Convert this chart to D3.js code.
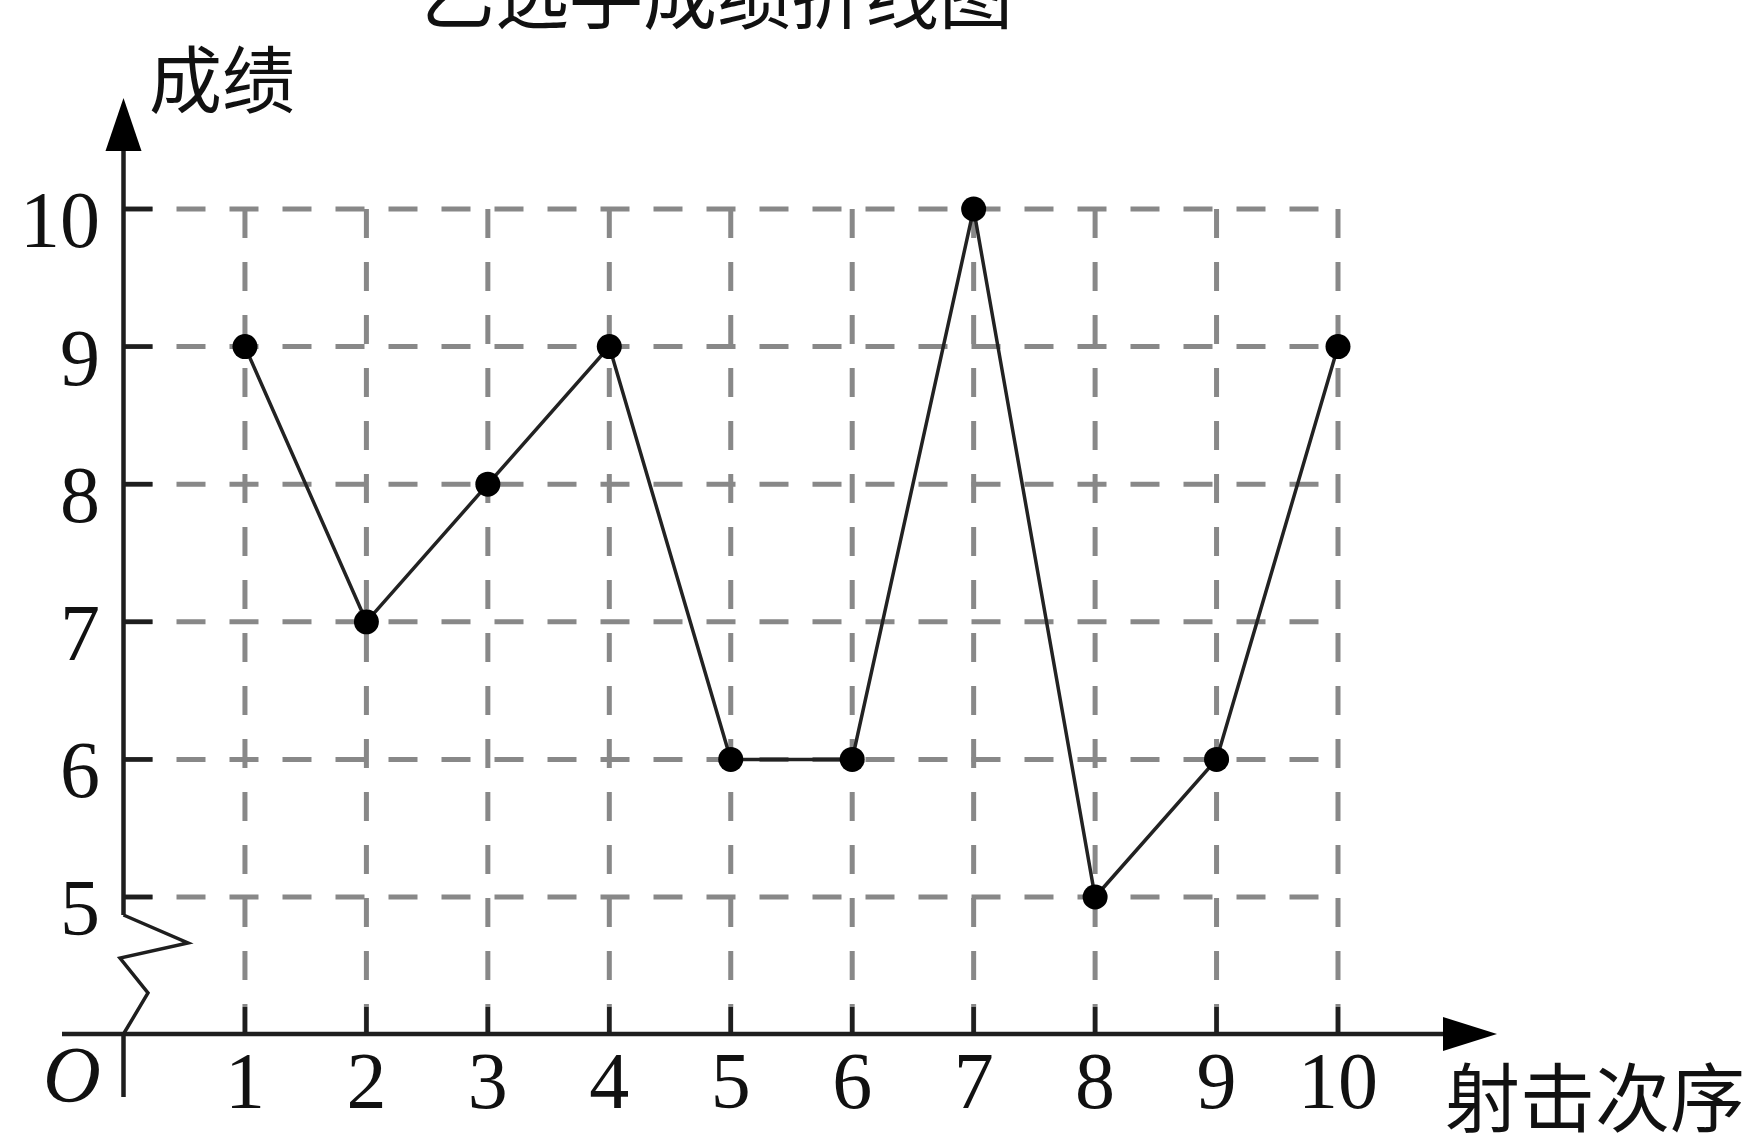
<!DOCTYPE html>
<html>
<head>
<meta charset="utf-8">
<script src="https://cdn.jsdelivr.net/npm/d3@7"></script>
<style>
  html, body { margin: 0; padding: 0; background: #fff; overflow: hidden; }
  svg { display: block; }
</style>
</head>
<body>
<svg id="chart" width="1749" height="1133"></svg>
<script>
// ---- data ----
const shots = [1, 2, 3, 4, 5, 6, 7, 8, 9, 10];
const scores = [9, 7, 8, 9, 6, 6, 10, 5, 6, 9];
const yTicks = [5, 6, 7, 8, 9, 10];
const xTickLabels = ["1", "2", "3", "4", "5", "6", "7", "8", "9", "10"];
const titleText = "乙选手成绩折线图";
const yAxisTitle = "成绩";
const xAxisTitle = "射击次序";
const originLabel = "O";

// ---- layout ----
const svg = d3.select("#chart");
const x = d3.scaleLinear().domain([0, 10]).range([123.5, 1338]);
const y = d3.scaleLinear().domain([5, 10]).range([897, 209]);
const axisY = 1034;          // pixel row of the horizontal axis (broken scale)
const axisX = x(0);
const gridColor = "#888888";
const inkColor = "#1e1e1e";
const serif = "'Liberation Serif', 'Times New Roman', serif";
const cjk = "'Noto Sans CJK SC', sans-serif";

// horizontal dashed grid lines
svg.append("g").selectAll("line").data(yTicks).join("line")
  .attr("x1", axisX).attr("x2", x(10))
  .attr("y1", d => y(d)).attr("y2", d => y(d))
  .attr("stroke", gridColor).attr("stroke-width", 5)
  .attr("stroke-dasharray", "29,24");

// vertical dashed grid lines
svg.append("g").selectAll("line").data(shots).join("line")
  .attr("x1", d => x(d)).attr("x2", d => x(d))
  .attr("y1", y(10)).attr("y2", axisY)
  .attr("stroke", gridColor).attr("stroke-width", 5)
  .attr("stroke-dasharray", "29,24");

// y ticks (solid)
svg.append("g").selectAll("line").data(yTicks).join("line")
  .attr("x1", axisX).attr("x2", axisX + 29)
  .attr("y1", d => y(d)).attr("y2", d => y(d))
  .attr("stroke", inkColor).attr("stroke-width", 4.5);

// x ticks (solid)
svg.append("g").selectAll("line").data(shots).join("line")
  .attr("x1", d => x(d)).attr("x2", d => x(d))
  .attr("y1", axisY).attr("y2", axisY - 27)
  .attr("stroke", inkColor).attr("stroke-width", 4.5);

// axes
const axes = svg.append("g").attr("stroke", inkColor).attr("stroke-width", 4.5).attr("fill", "none");
axes.append("line").attr("x1", 62).attr("x2", 1450).attr("y1", axisY).attr("y2", axisY);
axes.append("line").attr("x1", axisX).attr("x2", axisX).attr("y1", 140).attr("y2", 915);
axes.append("line").attr("x1", axisX).attr("x2", axisX).attr("y1", axisY).attr("y2", 1097);
axes.append("path")
  .attr("stroke-width", 3.5).attr("stroke-linejoin", "miter")
  .attr("d", d3.line()([[axisX, 915], [188, 943], [120, 958], [148, 993], [axisX, axisY]]));

// arrow heads
svg.append("path").attr("fill", "#000")
  .attr("d", d3.line()([[axisX, 98], [axisX - 18, 151], [axisX + 18, 151]]) + "Z");
svg.append("path").attr("fill", "#000")
  .attr("d", d3.line()([[1497, axisY], [1443, axisY - 17], [1443, axisY + 17]]) + "Z");

// data line
svg.append("path")
  .datum(shots.map((s, i) => [s, scores[i]]))
  .attr("fill", "none").attr("stroke", "#222").attr("stroke-width", 3.5)
  .attr("d", d3.line().x(d => x(d[0])).y(d => y(d[1])));

// points
svg.append("g").selectAll("circle").data(shots).join("circle")
  .attr("cx", d => x(d)).attr("cy", (d, i) => y(scores[i]))
  .attr("r", 12.5).attr("fill", "#000");

// y tick labels
svg.append("g").selectAll("text").data(yTicks).join("text")
  .attr("x", 100).attr("y", d => y(d) + 38)
  .attr("text-anchor", "end")
  .attr("font-family", serif).attr("font-size", 80).attr("fill", "#111")
  .text(d => d);

// x tick labels
svg.append("g").selectAll("text").data(shots).join("text")
  .attr("x", d => x(d)).attr("y", 1108)
  .attr("text-anchor", "middle")
  .attr("font-family", serif).attr("font-size", 80).attr("fill", "#111")
  .text((d, i) => xTickLabels[i]);

// origin label
svg.append("text").attr("x", 72).attr("y", 1102)
  .attr("text-anchor", "middle")
  .attr("font-family", serif).attr("font-style", "italic")
  .attr("font-size", 80).attr("fill", "#111").text(originLabel);

// titles (cut by the picture edges, as in the reference)
svg.append("text").attr("x", 421).attr("y", 23)
  .attr("font-family", cjk).attr("font-size", 74).attr("fill", "#111")
  .text(titleText);
svg.append("text").attr("x", 149).attr("y", 107)
  .attr("font-family", cjk).attr("font-size", 73).attr("fill", "#111")
  .text(yAxisTitle);
svg.append("text").attr("x", 1445).attr("y", 1126)
  .attr("font-family", cjk).attr("font-size", 75).attr("fill", "#111")
  .text(xAxisTitle);
</script>
</body>
</html>
